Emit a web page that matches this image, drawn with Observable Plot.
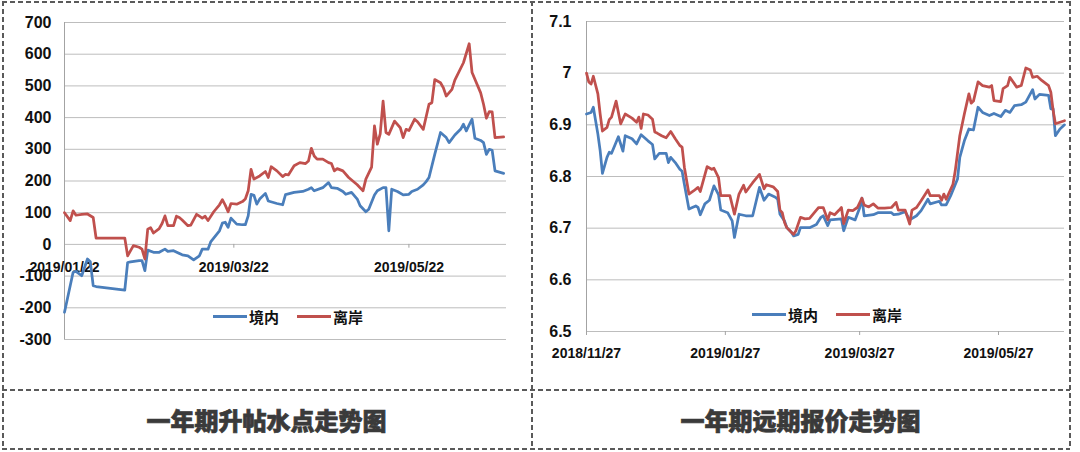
<!DOCTYPE html>
<html><head><meta charset="utf-8">
<script src="https://cdn.jsdelivr.net/npm/d3@7"></script>
<script src="https://cdn.jsdelivr.net/npm/@observablehq/plot@0.6"></script>
<style>
html,body{margin:0;padding:0;background:#fff;}
#wrap{position:relative;width:1080px;height:452px;overflow:hidden;background:#fff;}
.panel{position:absolute;top:0;}
.hd{position:absolute;height:1.5px;background:repeating-linear-gradient(to right,#5a5a5a 0 5px,transparent 5px 8px);}
.vd{position:absolute;width:1.5px;background:repeating-linear-gradient(to bottom,#5a5a5a 0 5px,transparent 5px 8px);}
.title{position:absolute;top:390px;height:58px;display:flex;align-items:center;justify-content:center;font-family:"Noto Sans CJK SC",sans-serif;font-weight:900;font-size:24px;color:#3a3a3a;-webkit-text-stroke:0.7px #3a3a3a;}
.legend{position:absolute;display:flex;align-items:center;height:20px;font-family:"Noto Sans CJK SC",sans-serif;font-weight:700;font-size:15px;color:#111;}
.sw{display:inline-block;width:34px;height:3px;margin-right:2px;}
</style></head><body>
<div id="wrap">
  <div class="panel" id="left" style="left:0;width:531px;"></div>
  <div class="panel" id="right" style="left:531px;width:549px;"></div>
  <div class="legend" id="legL" style="left:213px;top:306px;"></div>
  <div class="legend" id="legR" style="left:752px;top:304px;"></div>
  <div class="title" id="tL" style="left:2px;width:529px;"></div>
  <div class="title" id="tR" style="left:531px;width:539px;"></div>
  <div class="hd" style="left:2px;top:1px;width:1068px;"></div>
  <div class="hd" style="left:2px;top:389px;width:1068px;"></div>
  <div class="hd" style="left:2px;top:448px;width:1068px;"></div>
  <div class="vd" style="left:2px;top:1px;height:448px;"></div>
  <div class="vd" style="left:531px;top:1px;height:448px;"></div>
  <div class="vd" style="left:1069px;top:1px;height:448px;"></div>
</div>
<script>
// ---------- data ----------
const seriesNames = ["境内", "离岸"];
const seriesColors = ["#4a7ebb", "#c0504d"];
const titles = ["一年期升帖水点走势图", "一年期远期报价走势图"];

const leftYTicks = [-300, -200, -100, 0, 100, 200, 300, 400, 500, 600, 700];
const leftXTicks = ["2019-01-22", "2019-03-22", "2019-05-22"];
const leftXDomain = ["2019-01-22", "2019-06-25"];

const rightYTicks = [6.5, 6.6, 6.7, 6.8, 6.9, 7.0, 7.1];
const rightXTicks = ["2018-11-27", "2019-01-27", "2019-03-27", "2019-05-27"];
const rightXDomain = ["2018-11-27", "2019-06-25"];

// 一年期升帖水点 境内
const leftOnshore = [["2019-01-22",-214],["2019-01-25",-88],["2019-01-26",-85],["2019-01-28",-99],["2019-01-30",-46],["2019-01-31",-55],["2019-02-01",-130],["2019-02-02",-133],["2019-02-12",-144],["2019-02-13",-57],["2019-02-14",-55],["2019-02-17",-51],["2019-02-18",-51],["2019-02-19",-83],["2019-02-20",-18],["2019-02-22",-25],["2019-02-24",-25],["2019-02-26",-15],["2019-02-27",-22],["2019-03-01",-20],["2019-03-04",-33],["2019-03-06",-36],["2019-03-08",-49],["2019-03-10",-36],["2019-03-11",-15],["2019-03-13",-15],["2019-03-14",9],["2019-03-17",43],["2019-03-18",67],["2019-03-19",70],["2019-03-20",54],["2019-03-21",83],["2019-03-23",64],["2019-03-25",62],["2019-03-26",62],["2019-03-27",90],["2019-03-28",158],["2019-03-29",155],["2019-03-30",127],["2019-03-31",143],["2019-04-02",161],["2019-04-03",137],["2019-04-06",129],["2019-04-08",125],["2019-04-09",157],["2019-04-12",164],["2019-04-15",167],["2019-04-17",174],["2019-04-18",179],["2019-04-19",169],["2019-04-22",179],["2019-04-24",195],["2019-04-25",179],["2019-04-27",177],["2019-04-29",167],["2019-04-30",158],["2019-05-02",164],["2019-05-04",143],["2019-05-05",122],["2019-05-07",103],["2019-05-08",111],["2019-05-10",156],["2019-05-11",169],["2019-05-13",179],["2019-05-14",179],["2019-05-15",43],["2019-05-16",174],["2019-05-18",167],["2019-05-20",156],["2019-05-22",158],["2019-05-23",167],["2019-05-25",174],["2019-05-27",188],["2019-05-28",198],["2019-05-29",211],["2019-05-31",284],["2019-06-02",353],["2019-06-04",337],["2019-06-05",321],["2019-06-07",345],["2019-06-09",363],["2019-06-10",379],["2019-06-11",358],["2019-06-12",377],["2019-06-13",395],["2019-06-14",335],["2019-06-16",328],["2019-06-17",321],["2019-06-18",284],["2019-06-19",300],["2019-06-20",297],["2019-06-21",232],["2019-06-24",224]];

// 一年期升帖水点 离岸
const leftOffshore = [["2019-01-22",100],["2019-01-24",75],["2019-01-25",106],["2019-01-26",92],["2019-01-28",95],["2019-01-30",96],["2019-02-01",85],["2019-02-02",20],["2019-02-12",20],["2019-02-13",-36],["2019-02-15",-4],["2019-02-17",-9],["2019-02-18",-15],["2019-02-19",-46],["2019-02-20",48],["2019-02-21",53],["2019-02-22",36],["2019-02-24",50],["2019-02-25",66],["2019-02-26",90],["2019-02-27",59],["2019-03-01",59],["2019-03-02",89],["2019-03-03",85],["2019-03-04",77],["2019-03-06",59],["2019-03-07",61],["2019-03-09",95],["2019-03-10",89],["2019-03-11",83],["2019-03-12",89],["2019-03-13",75],["2019-03-15",103],["2019-03-17",125],["2019-03-18",141],["2019-03-19",124],["2019-03-20",103],["2019-03-21",129],["2019-03-23",127],["2019-03-25",135],["2019-03-26",143],["2019-03-27",169],["2019-03-28",237],["2019-03-29",206],["2019-03-31",216],["2019-04-02",230],["2019-04-03",211],["2019-04-04",245],["2019-04-06",232],["2019-04-08",214],["2019-04-09",221],["2019-04-10",219],["2019-04-12",248],["2019-04-14",258],["2019-04-16",255],["2019-04-17",263],["2019-04-18",303],["2019-04-19",279],["2019-04-20",269],["2019-04-22",269],["2019-04-24",258],["2019-04-25",255],["2019-04-26",232],["2019-04-27",239],["2019-04-29",232],["2019-05-01",211],["2019-05-04",188],["2019-05-06",169],["2019-05-07",206],["2019-05-09",244],["2019-05-10",374],["2019-05-11",316],["2019-05-12",349],["2019-05-13",452],["2019-05-14",353],["2019-05-15",347],["2019-05-17",389],["2019-05-19",368],["2019-05-20",337],["2019-05-21",363],["2019-05-22",359],["2019-05-24",395],["2019-05-25",387],["2019-05-27",363],["2019-05-29",442],["2019-05-30",447],["2019-05-31",520],["2019-06-02",510],["2019-06-03",494],["2019-06-04",468],["2019-06-06",489],["2019-06-07",518],["2019-06-10",573],["2019-06-12",633],["2019-06-13",542],["2019-06-16",478],["2019-06-17",442],["2019-06-18",398],["2019-06-19",419],["2019-06-20",418],["2019-06-21",337],["2019-06-24",339]];

// 一年期远期报价 境内
const rightOnshore = [["2018-11-27",6.921],["2018-11-29",6.924],["2018-11-30",6.934],["2018-12-02",6.882],["2018-12-03",6.850],["2018-12-04",6.806],["2018-12-06",6.837],["2018-12-07",6.847],["2018-12-08",6.845],["2018-12-11",6.877],["2018-12-13",6.849],["2018-12-14",6.879],["2018-12-17",6.873],["2018-12-19",6.863],["2018-12-21",6.881],["2018-12-24",6.869],["2018-12-26",6.862],["2018-12-27",6.834],["2018-12-29",6.845],["2019-01-01",6.845],["2019-01-02",6.827],["2019-01-03",6.837],["2019-01-05",6.827],["2019-01-07",6.814],["2019-01-08",6.810],["2019-01-09",6.785],["2019-01-11",6.737],["2019-01-14",6.743],["2019-01-15",6.740],["2019-01-16",6.726],["2019-01-18",6.747],["2019-01-20",6.754],["2019-01-22",6.782],["2019-01-24",6.765],["2019-01-25",6.735],["2019-01-28",6.730],["2019-01-30",6.714],["2019-01-31",6.682],["2019-02-02",6.727],["2019-02-05",6.724],["2019-02-08",6.724],["2019-02-11",6.779],["2019-02-13",6.754],["2019-02-15",6.766],["2019-02-18",6.760],["2019-02-19",6.756],["2019-02-20",6.727],["2019-02-22",6.714],["2019-02-23",6.701],["2019-02-25",6.692],["2019-02-26",6.685],["2019-02-28",6.688],["2019-03-01",6.701],["2019-03-05",6.701],["2019-03-08",6.707],["2019-03-10",6.721],["2019-03-11",6.724],["2019-03-13",6.705],["2019-03-14",6.716],["2019-03-19",6.718],["2019-03-20",6.695],["2019-03-22",6.721],["2019-03-25",6.716],["2019-03-27",6.739],["2019-03-28",6.758],["2019-03-29",6.724],["2019-04-02",6.726],["2019-04-04",6.730],["2019-04-07",6.730],["2019-04-10",6.730],["2019-04-11",6.726],["2019-04-13",6.727],["2019-04-16",6.732],["2019-04-18",6.716],["2019-04-21",6.724],["2019-04-23",6.734],["2019-04-26",6.756],["2019-04-27",6.747],["2019-05-01",6.752],["2019-05-02",6.745],["2019-05-04",6.745],["2019-05-06",6.763],["2019-05-09",6.795],["2019-05-10",6.837],["2019-05-12",6.869],["2019-05-14",6.892],["2019-05-16",6.890],["2019-05-18",6.934],["2019-05-20",6.924],["2019-05-23",6.918],["2019-05-25",6.922],["2019-05-28",6.916],["2019-05-30",6.928],["2019-06-01",6.924],["2019-06-03",6.937],["2019-06-06",6.939],["2019-06-08",6.944],["2019-06-11",6.968],["2019-06-12",6.950],["2019-06-14",6.959],["2019-06-18",6.957],["2019-06-19",6.931],["2019-06-20",6.931],["2019-06-21",6.879],["2019-06-23",6.892],["2019-06-25",6.900]];

// 一年期远期报价 离岸
const rightOffshore = [["2018-11-27",7.000],["2018-11-28",6.983],["2018-11-29",6.979],["2018-11-30",6.994],["2018-12-02",6.960],["2018-12-03",6.921],["2018-12-04",6.888],["2018-12-06",6.895],["2018-12-07",6.910],["2018-12-08",6.915],["2018-12-10",6.946],["2018-12-12",6.902],["2018-12-14",6.921],["2018-12-17",6.913],["2018-12-19",6.905],["2018-12-20",6.915],["2018-12-21",6.893],["2018-12-22",6.921],["2018-12-24",6.919],["2018-12-26",6.911],["2018-12-27",6.886],["2018-12-28",6.884],["2018-12-30",6.879],["2019-01-01",6.875],["2019-01-03",6.887],["2019-01-05",6.873],["2019-01-07",6.860],["2019-01-08",6.857],["2019-01-09",6.818],["2019-01-11",6.766],["2019-01-13",6.772],["2019-01-15",6.779],["2019-01-16",6.771],["2019-01-19",6.819],["2019-01-21",6.814],["2019-01-22",6.816],["2019-01-24",6.798],["2019-01-25",6.763],["2019-01-27",6.763],["2019-01-29",6.763],["2019-01-31",6.727],["2019-02-02",6.766],["2019-02-04",6.783],["2019-02-05",6.770],["2019-02-07",6.782],["2019-02-08",6.788],["2019-02-11",6.804],["2019-02-13",6.776],["2019-02-14",6.784],["2019-02-17",6.780],["2019-02-19",6.771],["2019-02-20",6.735],["2019-02-21",6.730],["2019-02-22",6.711],["2019-02-23",6.701],["2019-02-25",6.692],["2019-02-26",6.688],["2019-02-27",6.695],["2019-03-01",6.721],["2019-03-03",6.718],["2019-03-05",6.719],["2019-03-08",6.735],["2019-03-09",6.740],["2019-03-11",6.740],["2019-03-13",6.716],["2019-03-14",6.730],["2019-03-16",6.726],["2019-03-18",6.735],["2019-03-19",6.740],["2019-03-20",6.709],["2019-03-22",6.735],["2019-03-24",6.734],["2019-03-26",6.740],["2019-03-28",6.758],["2019-03-29",6.745],["2019-03-31",6.741],["2019-04-02",6.747],["2019-04-04",6.739],["2019-04-07",6.739],["2019-04-10",6.740],["2019-04-12",6.750],["2019-04-13",6.735],["2019-04-16",6.735],["2019-04-18",6.708],["2019-04-19",6.735],["2019-04-21",6.740],["2019-04-23",6.753],["2019-04-26",6.774],["2019-04-27",6.763],["2019-05-01",6.763],["2019-05-02",6.754],["2019-05-03",6.766],["2019-05-04",6.756],["2019-05-07",6.785],["2019-05-08",6.811],["2019-05-10",6.879],["2019-05-12",6.921],["2019-05-14",6.960],["2019-05-15",6.942],["2019-05-16",6.946],["2019-05-18",6.983],["2019-05-20",6.976],["2019-05-23",6.973],["2019-05-24",6.976],["2019-05-25",6.947],["2019-05-28",6.945],["2019-05-29",6.970],["2019-05-31",6.976],["2019-06-01",6.992],["2019-06-04",6.973],["2019-06-06",6.976],["2019-06-08",7.010],["2019-06-10",7.006],["2019-06-11",6.992],["2019-06-13",6.994],["2019-06-15",6.986],["2019-06-18",6.976],["2019-06-19",6.963],["2019-06-20",6.928],["2019-06-21",6.902],["2019-06-23",6.905],["2019-06-25",6.908]];

// ---------- build ----------
const gridColor = "#bdbdbd";
const axisColor = "#a3a3a3";
const textColor = "#111";
const fontFam = "'Liberation Sans', Arial, sans-serif";
const dateFmt = d3.utcFormat("%Y/%m/%d");
const toDate = s => new Date(s);

function rows(a, b) {
  return [
    ...a.map(([d, v]) => ({date: toDate(d), value: v, series: seriesNames[0]})),
    ...b.map(([d, v]) => ({date: toDate(d), value: v, series: seriesNames[1]}))
  ];
}
const leftRows = rows(leftOnshore, leftOffshore);
const rightRows = rows(rightOnshore, rightOffshore);
const lxt = leftXTicks.map(toDate);
const rxt = rightXTicks.map(toDate);

const leftPlot = Plot.plot({
  width: 531, height: 389,
  marginLeft: 64, marginRight: 25, marginTop: 22, marginBottom: 50,
  style: {fontFamily: fontFam, fontWeight: "bold", color: textColor, background: "transparent", overflow: "visible"},
  x: {type: "utc", domain: leftXDomain.map(toDate), axis: null},
  y: {domain: [-300, 700], axis: null},
  color: {domain: seriesNames, range: seriesColors},
  marks: [
    Plot.gridY(leftYTicks, {stroke: gridColor, strokeOpacity: 1, strokeWidth: 1}),
    Plot.axisY(leftYTicks, {tickSize: 0, tickPadding: 13, fontSize: 16, fontWeight: "bold", fill: textColor, label: null, tickFormat: d => String(d)}),
    Plot.ruleX([lxt[0]], {stroke: axisColor}),
    Plot.ruleX(lxt.slice(1), {y1: 0, y2: -12, stroke: axisColor}),
    Plot.text(lxt, {x: d => d, y: 0, dy: 23, text: d => dateFmt(d), fontSize: 14, fontWeight: "bold", fill: textColor, lineAnchor: "middle"}),
    Plot.line(leftRows, {x: "date", y: "value", z: "series", stroke: "series", strokeWidth: 2.75, strokeLinejoin: "round", curve: "linear"})
  ]
});
document.getElementById("left").append(leftPlot);

const rightPlot = Plot.plot({
  width: 549, height: 389,
  marginLeft: 55, marginRight: 16, marginTop: 21, marginBottom: 58,
  style: {fontFamily: fontFam, fontWeight: "bold", color: textColor, background: "transparent", overflow: "visible"},
  x: {type: "utc", domain: rightXDomain.map(toDate), axis: null},
  y: {domain: [6.5, 7.1], axis: null},
  color: {domain: seriesNames, range: seriesColors},
  marks: [
    Plot.gridY(rightYTicks, {stroke: gridColor, strokeOpacity: 1, strokeWidth: 1}),
    Plot.axisY(rightYTicks, {tickSize: 0, tickPadding: 15, fontSize: 16, fontWeight: "bold", fill: textColor, label: null, tickFormat: d => d === 7 ? "7" : d3.format(".1f")(d)}),
    Plot.ruleX([rxt[0]], {stroke: axisColor}),
    Plot.axisX(rxt, {tickSize: 4, tickPadding: 13, fontSize: 14, fontWeight: "bold", stroke: axisColor, fill: textColor, label: null, tickFormat: d => dateFmt(d)}),
    Plot.line(rightRows, {x: "date", y: "value", z: "series", stroke: "series", strokeWidth: 2.75, strokeLinejoin: "round"})
  ]
});
document.getElementById("right").append(rightPlot);

// legends
function legend(el) {
  seriesNames.forEach((n, i) => {
    const item = document.createElement("span");
    item.style.display = "inline-flex";
    item.style.alignItems = "center";
    if (i > 0) item.style.marginLeft = "18px";
    const sw = document.createElement("span");
    sw.className = "sw";
    sw.style.background = seriesColors[i];
    const t = document.createElement("span");
    t.textContent = n;
    item.append(sw, t);
    el.append(item);
  });
}
legend(document.getElementById("legL"));
legend(document.getElementById("legR"));
document.getElementById("tL").textContent = titles[0];
document.getElementById("tR").textContent = titles[1];
</script>
</body></html>
